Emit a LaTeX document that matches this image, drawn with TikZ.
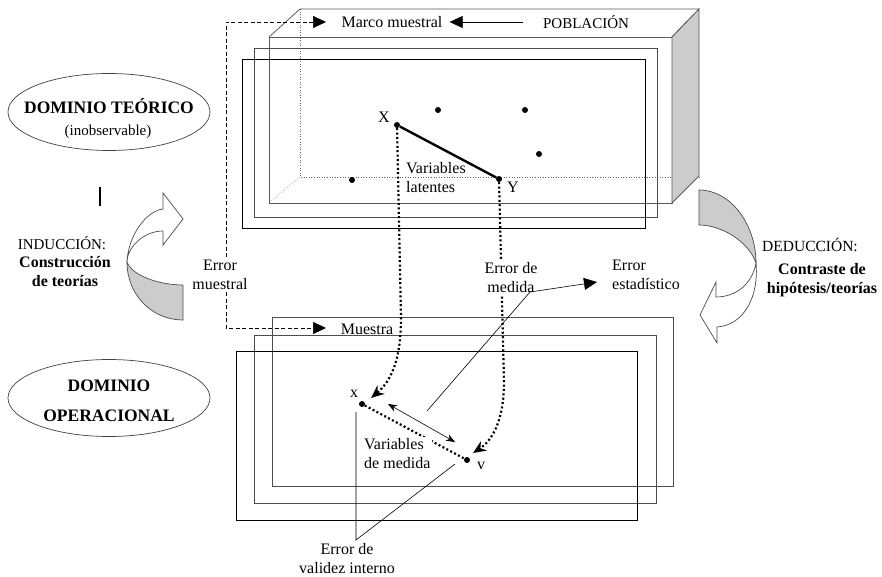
\documentclass[tikz,border=0pt]{standalone}
\usepackage{fontspec}
\setmainfont{Liberation Serif}
\usetikzlibrary{arrows.meta,shapes.geometric}

\begin{document}
\begin{tikzpicture}[x=1pt,y=-1pt,
  txt/.style={font=\fontsize{16}{19}\selectfont, inner sep=1pt, align=center},
  bigtxt/.style={font=\fontsize{17.5}{30}\selectfont\bfseries, inner sep=1pt, align=center},
  boxline/.style={draw=black!65, line width=0.8pt},
  frameB/.style={draw=black!70, line width=0.8pt},
  frameC/.style={draw=black, line width=0.8pt},
  hidden/.style={draw=black!60, line width=0.6pt, dotted},
  dashln/.style={draw=black, line width=0.7pt, dash pattern=on 4pt off 2.5pt},
  bigtip/.tip={Triangle[length=13pt,width=12pt]},
  dotline/.style={draw=black, line width=2.2pt, dash pattern=on 2pt off 2.4pt},
  dotarrow/.style={dotline, -{Stealth[length=13pt,width=11pt]}},
  thinln/.style={draw=black, line width=0.6pt},
  dotpt/.style={circle, fill=black, inner sep=0pt, minimum size=6pt},
  bandshape/.style={draw=black!70, line width=0.7pt}]

\useasboundingbox (0,0) rectangle (882,577);

% ---------- theoretical domain: population box ----------
\draw[hidden] (300,9) -- (300,177) -- (699,177);
\draw[hidden] (300,177) -- (269,203);
\draw[boxline] (269,37) rectangle (672,203);
\draw[boxline] (269,37) -- (300,9) -- (699,9) -- (672,37);
\filldraw[boxline, fill=gray!40] (672,37) -- (699,9) -- (699,176) -- (672,203) -- cycle;
\draw[frameB] (254,48) rectangle (657,217);
\draw[frameC] (242,59) rectangle (645,228);

% ---------- operational domain: sample frames ----------
\draw[frameB] (272,317) rectangle (673,486);
\draw[frameB] (254,335) rectangle (656,503);
\draw[frameC] (236,351) rectangle (637,520);

% ---------- labels of the sampling chain ----------
\node[txt] (marco) at (392,22) {Marco muestral};
\node[txt, font=\fontsize{15}{18}\selectfont] (pobl) at (586,22) {POBLACIÓN};
\node[txt] (muestra) at (367,329) {Muestra};
\draw[thinln, -bigtip, shorten <=19pt, shorten >=6pt] (pobl.west) -- (marco.east);

\coordinate (mtip) at (326,22);
\coordinate (stip) at (326,328);
\coordinate (dA) at (226,22);
\coordinate (dB) at (226,328);
\draw[dashln, bigtip-bigtip] (mtip) -- (dA) -- (dB) -- (stip);
\node[txt, fill=white, inner sep=2pt] (errmu) at (220,275) {Error\\muestral};

% ---------- latent variables ----------
\node[dotpt] (X) at (397,125) {};
\node[dotpt] (Y) at (499,179) {};
\node[dotpt] (p1) at (438,110) {};
\node[dotpt] (p2) at (525,110) {};
\node[dotpt] (p3) at (539,154) {};
\node[dotpt] (p4) at (352,180) {};
\node[txt] (Xl) at (384,117) {X};
\node[txt] (Yl) at (513,187) {Y};
\draw[line width=2.4pt] (X) -- (Y);
\node[txt, anchor=west, align=left] (latent) at (405,178) {Variables\\latentes};

% ---------- measured variables ----------
\node[dotpt] (xm) at (362,404) {};
\node[dotpt] (vm) at (467,460) {};
\node[txt] (xl) at (354,394) {x};
\node[txt] (vl) at (481,466) {v};
\draw[dotline] (xm) -- (vm);
\node[txt, anchor=west, align=left, fill=white, inner sep=2pt] (medvar) at (362,454) {Variables\\de medida};

% measurement links
\coordinate (l1) at (401,318);
\coordinate (ltip) at (371,398);
\coordinate (r1) at (504,382);
\coordinate (rtip) at (473,453);
\draw[dotarrow] (X) -- (l1) .. controls (401,362) and (390,382) .. (ltip);
\draw[dotarrow] (Y) -- (r1) .. controls (504,424) and (490,442) .. (rtip);
\node[txt, fill=white, inner sep=2pt] (errmed) at (511,278) {Error de\\medida};

% relation between measured variables
\coordinate (ra) at (388,404);
\coordinate (rb) at (455,442);
\draw[thinln, {Stealth[length=9pt,width=7pt]}-{Stealth[length=9pt,width=7pt]}] (ra) -- (rb);

% statistical error leader
\coordinate (e0) at (427,411);
\coordinate (e1) at (530,292);
\coordinate (e2) at (597,282);
\draw[thinln, -bigtip] (e0) -- (e1) -- (e2);
\node[txt, anchor=west, align=left] (errest) at (611,275) {Error\\estadístico};

% internal validity leader
\coordinate (v0) at (356,412);
\coordinate (v1) at (356,540);
\coordinate (v2) at (455,464);
\draw[thinln] (v0) -- (v1) -- (v2);
\node[txt] (errval) at (347,559) {Error de\\validez interno};

% ---------- domains ----------
\node[ellipse, draw=black!75, line width=0.7pt, minimum width=202pt, minimum height=77pt] (dteo) at (109,112) {};
\node[bigtxt] (dteot) at (109,106) {DOMINIO TEÓRICO};
\node[txt, font=\fontsize{15}{18}\selectfont] (dteoi) at (108,132) {(inobservable)};

\node[ellipse, draw=black!75, line width=0.7pt, minimum width=202pt, minimum height=77pt] (dop) at (109,398) {};
\node[bigtxt] (dopt) at (109,386) {DOMINIO};
\node[bigtxt] (dopo) at (109,416) {OPERACIONAL};

\draw[line width=1.4pt] (100,187) -- (100,206);

% ---------- induction arrow ----------
\filldraw[bandshape, fill=gray!40] (127,262) .. controls (127,295) and (152,320) .. (183,320)
  -- (183,285) .. controls (160,285) and (132,276) .. (127,262) -- cycle;
\filldraw[bandshape, fill=white] (163,209) .. controls (146,211) and (128,236) .. (127,262)
  .. controls (127,248) and (143,231) .. (163,231) -- (163,245) -- (183,219) -- (163,193) -- cycle;

\node[txt, font=\fontsize{15}{18}\selectfont] (ind) at (62,243) {INDUCCIÓN:};
\node[txt, font=\fontsize{16}{19}\selectfont\bfseries] (ind2) at (65,272) {Construcción\\de teorías};

% ---------- deduction arrow ----------
\filldraw[bandshape, fill=gray!40] (699,190) .. controls (731,190) and (756,225) .. (756,263)
  .. controls (749,242) and (722,225) .. (699,225) -- cycle;
\filldraw[bandshape, fill=white] (756,263) .. controls (759,295) and (745,325) .. (717,327)
  -- (717,343) -- (700,315) -- (716,282) -- (716,297)
  .. controls (735,297) and (752,285) .. (756,263) -- cycle;

\node[txt, font=\fontsize{15.5}{18}\selectfont, anchor=west] (ded) at (761,245) {DEDUCCIÓN:};
\node[txt, font=\fontsize{16}{19}\selectfont\bfseries] (ded2) at (822,280) {Contraste de\\hipótesis/teorías};

\end{tikzpicture}
\end{document}
